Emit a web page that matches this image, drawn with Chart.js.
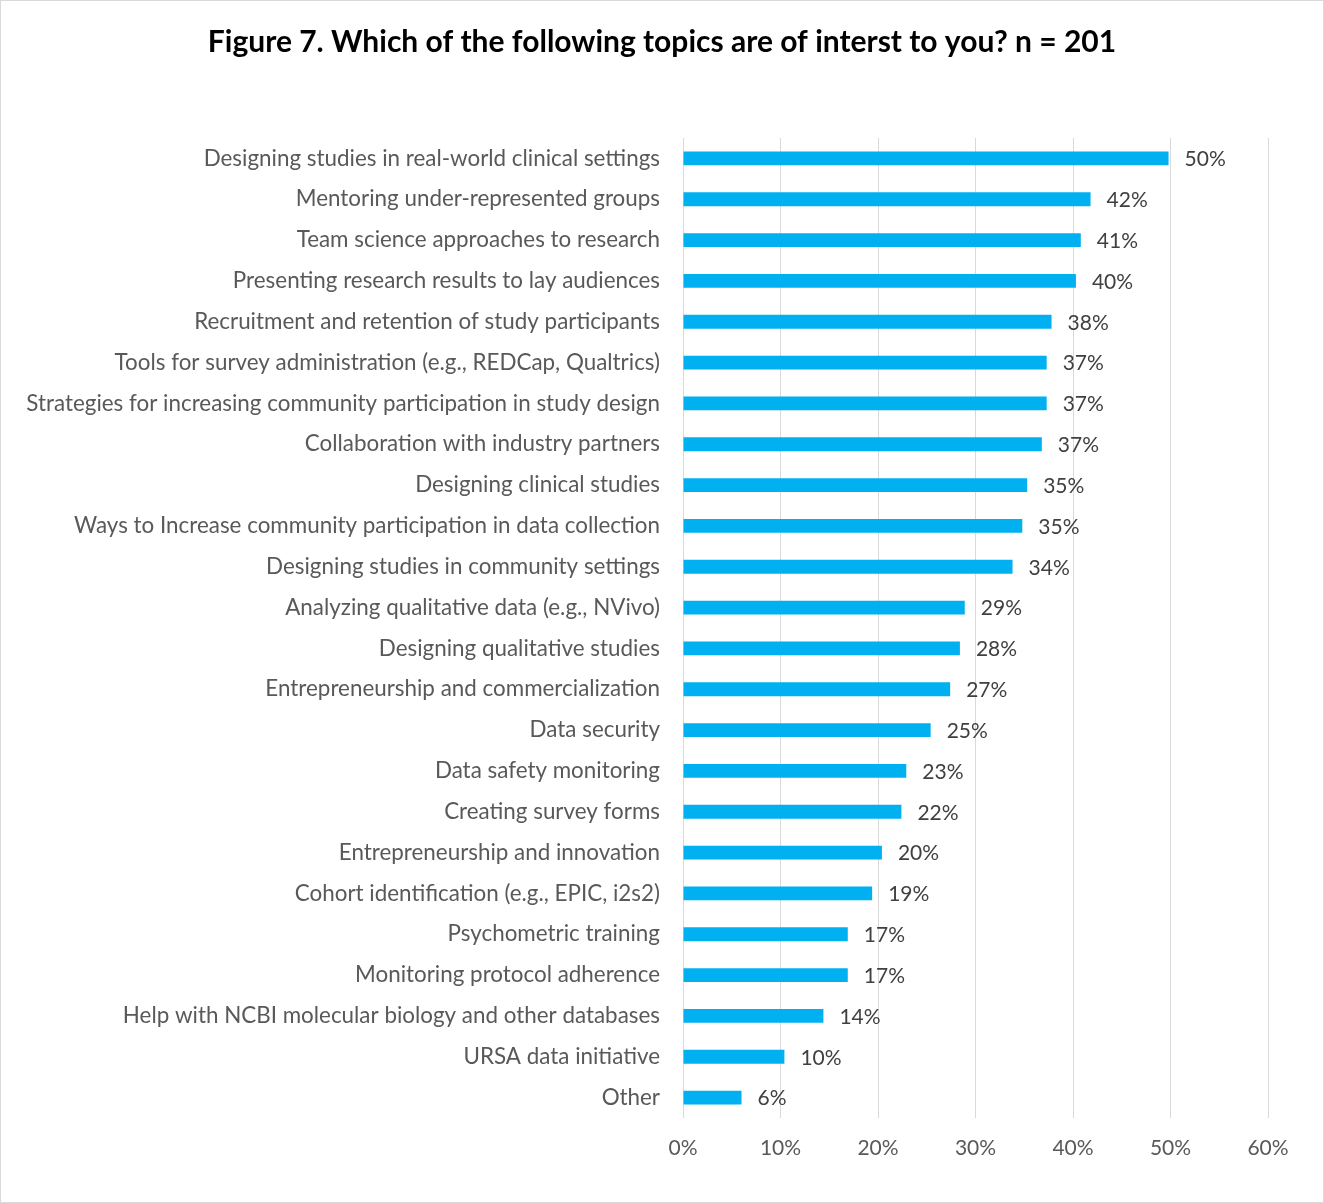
<!DOCTYPE html>
<html>
<head>
<meta charset="utf-8">
<script src="https://cdn.jsdelivr.net/npm/chart.js@4.4.1/dist/chart.umd.min.js"></script>
<style>
  html, body { margin: 0; padding: 0; background: #fff; }
  #wrap { width: 1324px; height: 1203px; box-sizing: border-box; border: 1px solid #d9d9d9; }
  canvas { display: block; }
</style>
</head>
<body>
<div id="wrap"><canvas id="topicsChart" width="1322" height="1201"></canvas></div>
<script>
// Survey topics, share of respondents (n = 201)
const topics = [
    'Designing studies in real-world clinical settings',
    'Mentoring under-represented groups',
    'Team science approaches to research',
    'Presenting research results to lay audiences',
    'Recruitment and retention of study participants',
    'Tools for survey administration (e.g., REDCap, Qualtrics)',
    'Strategies for increasing community participation in study design',
    'Collaboration with industry partners',
    'Designing clinical studies',
    'Ways to Increase community participation in data collection',
    'Designing studies in community settings',
    'Analyzing qualitative data (e.g., NVivo)',
    'Designing qualitative studies',
    'Entrepreneurship and commercialization',
    'Data security',
    'Data safety monitoring',
    'Creating survey forms',
    'Entrepreneurship and innovation',
    'Cohort identification (e.g., EPIC, i2s2)',
    'Psychometric training',
    'Monitoring protocol adherence',
    'Help with NCBI molecular biology and other databases',
    'URSA data initiative',
    'Other'
];
const interestPct = [49.8, 41.8, 40.8, 40.3, 37.8, 37.3, 37.3, 36.8, 35.3, 34.8, 33.8, 28.9,
                     28.4, 27.4, 25.4, 22.9, 22.4, 20.4, 19.4, 16.9, 16.9, 14.4, 10.4, 6.0];
const xTicks = [0, 10, 20, 30, 40, 50, 60];
const chartTitle = 'Figure 7. Which of the following topics are of interst to you? n = 201';

const FONT = 'Lato, "Open Sans", sans-serif';
const TEXT = '#595959';

// title centred on the whole canvas, value labels right of each bar
const annotate = {
    id: 'annotate',
    afterDatasetsDraw(chart) {
        const ctx = chart.ctx;
        const meta = chart.getDatasetMeta(0);
        ctx.save();
        ctx.font = 'bold 30px ' + FONT;
        ctx.fillStyle = '#000';
        ctx.textAlign = 'center';
        ctx.textBaseline = 'middle';
        ctx.fillText(chartTitle, chart.width / 2, 41);

        ctx.font = '21px ' + FONT;
        ctx.fillStyle = '#404040';
        ctx.textAlign = 'left';
        meta.data.forEach((bar, i) => {
            ctx.fillText(Math.round(interestPct[i]) + '%', bar.x + 16, bar.y + 1);
        });
        ctx.restore();
    }
};

new Chart(document.getElementById('topicsChart'), {
    type: 'bar',
    data: {
        labels: topics,
        datasets: [{
            data: interestPct,
            backgroundColor: '#00b0f0',
            barPercentage: 0.68,
            categoryPercentage: 0.5
        }]
    },
    options: {
        indexAxis: 'y',
        responsive: false,
        animation: false,
        layout: { padding: { left: 0, right: 55, top: 137, bottom: 0 } },
        plugins: {
            legend: { display: false },
            tooltip: { enabled: false },
            title: { display: false }
        },
        scales: {
            x: {
                min: 0,
                max: 60,
                afterBuildTicks(scale) {
                    scale.ticks = xTicks.map(v => ({ value: v }));
                },
                afterFit(scale) { scale.height = 84; },
                grid: { color: '#d9d9d9', lineWidth: 1, drawTicks: false },
                border: { display: false },
                ticks: {
                    color: TEXT,
                    padding: 18,
                    font: { family: FONT, size: 21 },
                    callback: v => v + '%'
                }
            },
            y: {
                afterFit(scale) { scale.width = 682; },
                grid: { display: false },
                border: { display: false },
                ticks: {
                    color: TEXT,
                    padding: 15,
                    font: { family: FONT, size: 22.4 }
                }
            }
        }
    },
    plugins: [annotate]
});
</script>
</body>
</html>
